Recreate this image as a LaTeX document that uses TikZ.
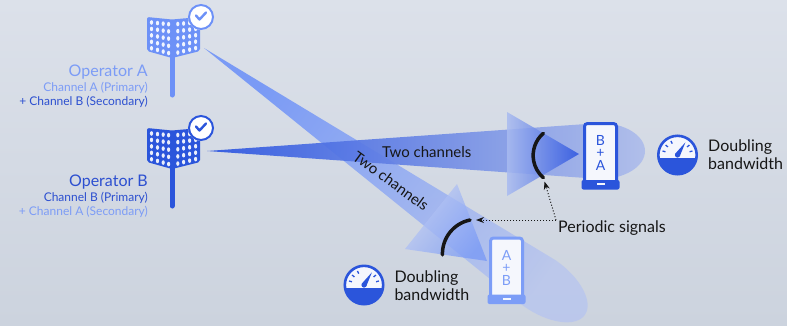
\documentclass[tikz,border=0pt]{standalone}
\usepackage{fontspec}
\setmainfont{Lato}
\usetikzlibrary{arrows.meta,calc}

\definecolor{bgtop}{HTML}{DCE1EA}
\definecolor{bgbot}{HTML}{CCD3DE}
\definecolor{opB}{HTML}{2B55DB}
\definecolor{opA}{HTML}{6D91F7}
\definecolor{phA}{HTML}{7C9DF7}
\definecolor{txtB}{HTML}{2C4FD0}
\definecolor{txtA}{HTML}{7C9CF6}
\definecolor{ink}{HTML}{161616}
\definecolor{screen}{HTML}{F5F7FD}
\definecolor{beamAstart}{HTML}{6A8FF8}
\definecolor{beamAend}{HTML}{B9C6EE}
\definecolor{beamBstart}{HTML}{2C55E0}
\definecolor{beamBmid}{HTML}{6684E0}
\definecolor{beamBend}{HTML}{AEBDEB}
\definecolor{coneAlight}{HTML}{C5D0F3}
\definecolor{coneAdark}{HTML}{7798F6}
\definecolor{coneBlight}{HTML}{A9BBF0}
\definecolor{coneBdark}{HTML}{2C54E0}

\tikzset{
  % sector antenna on a mast, with a check badge
  pics/tower/.style={code={
    \fill[#1, rounded corners=2pt] (0,0) -- (25,2.5) -- (53,0) -- (53,34) -- (25,41) -- (0,34) -- cycle;
    \draw[#1, line width=5pt, line cap=round] (25,38) -- (25,78);
    \foreach \cx in {4.5,10.5,16.2,21.6}{
      \foreach \r in {0,...,4}{
        \fill[#1!10!white] (\cx,{2.5*\cx/25+5+\r*(25+4.5*\cx/25)/4}) ellipse[x radius=1.6, y radius=2.3];
      }
    }
    \foreach \cx in {30.8,36.6,42.6,48.6}{
      \foreach \r in {0,...,4}{
        \fill[#1!10!white] (\cx,{2.5*(53-\cx)/28+5+\r*(25+4.5*(53-\cx)/28)/4}) ellipse[x radius=1.6, y radius=2.3];
      }
    }
    \fill[white] (54,0) circle[radius=13];
    \draw[#1, line width=2pt] (54,0) circle[radius=12];
    \draw[#1, line width=2.4pt, line cap=round, line join=round] (49,-1.5) -- (52.5,2.5) -- (59,-4.5);
  }},
  % speedometer icon
  pics/gauge/.style={code={
    \fill[screen] (0,0) circle[radius=19];
    \fill[opB] (19.8,3) arc[start angle=8.6, end angle=171.4, radius=20] -- cycle;
    \draw[opB, line width=2.6pt] (0,0) circle[radius=19.2];
    \foreach \a in {-165,-140,-115,-40,-15}
      \draw[opB, line width=1.3pt] (\a:12.5) -- (\a:15.5);
    \fill[opB, line join=round] (32:2.6) -- (-58:15) -- (-148:2.6) -- cycle;
    \fill[opB] (0,0) circle[radius=2.6];
  }},
  optitle/.style={font=\fontsize{16}{19}\selectfont, anchor=base east, inner sep=0pt},
  opline/.style={font=\fontsize{12}{14}\selectfont, anchor=base east, inner sep=0pt},
  beamlabel/.style={font=\fontsize{15}{18}\selectfont, text=ink, inner sep=0pt},
  note/.style={font=\fontsize{16}{18}\selectfont, text=ink, align=left, inner sep=0pt, anchor=base west},
  sigarrow/.style={ink, dotted, line width=1pt, -{Stealth[length=8pt,width=6pt]}},
  sigarc/.style={ink, line width=3.5pt, line cap=round},
  phone/.style={draw=#1, line width=3pt, fill=screen, rounded corners=3pt,
    minimum width=32pt, minimum height=63pt, inner sep=0pt},
  phonetext/.style={font=\fontsize{14}{12.5}\selectfont, text=#1, align=center, inner sep=0pt},
}

\begin{document}
\begin{tikzpicture}[x=1pt,y=-1pt]
\useasboundingbox (0,0) rectangle (787,325);
\shade[top color=bgtop, bottom color=bgbot] (0,0) rectangle (787,325);

\coordinate (srcA) at (204,48);
\coordinate (srcB) at (207,151);

% beam of operator A, ending in a rounded lobe
\shade[top color=beamAstart, bottom color=beamAend, shading angle=55, fill opacity=.85]
  (srcA) -- (555.9,260.4) .. controls (580.7,277.8) and (593.7,302.2) .. (584.9,314.9)
  .. controls (576.0,327.5) and (548.6,323.7) .. (523.7,306.2) -- cycle;

% beam of operator B
\shade[left color=beamBstart, middle color=beamBmid, right color=beamBend, fill opacity=.92]
  (srcB) -- (600,123) arc[start angle=-90, end angle=90, x radius=45, y radius=28] -- cycle;

% receive cones at the phones
\shade[top color=coneAlight, bottom color=coneAdark, shading angle=51, fill opacity=.75]
  (457,184) -- (487,261) -- (405,249) -- cycle;
\shade[left color=coneBlight, right color=coneBdark, fill opacity=.85]
  (507,112) -- (579,154) -- (507,196) -- cycle;

% periodic signal wavefronts
\coordinate (arcA1) at (470,220);
\draw[sigarc] (arcA1) arc[start angle=258.4, end angle=178.3, radius=34.5];
\coordinate (arcB1) at (543.3,133.3);
\draw[sigarc] (arcB1) arc[start angle=229.2, end angle=130.6, radius=29.3] coordinate (arcB2);

\node[beamlabel, anchor=base] (twoB) at (426.7,157.3) {Two channels};
\node[beamlabel, rotate=-36] (twoA) at (391,181) {Two channels};

% phones
\node[phone=opB] (phB) at (600.5,155) {};
\fill[opB, rounded corners=2pt] ([xshift=-1.5pt,yshift=-1.5pt]phB.south west) rectangle ([xshift=1.5pt,yshift=8pt]phB.south east);
\fill[screen] ([yshift=3.8pt]phB.south) +(-4,-1) rectangle +(4,1);
\node[phonetext=opB] (phBt) at (600.5,152.5) {B\\+\\A};

\node[phone=phA] (phA) at (506.5,269.5) {};
\fill[phA, rounded corners=2pt] ([xshift=-1.5pt,yshift=-1.5pt]phA.south west) rectangle ([xshift=1.5pt,yshift=8pt]phA.south east);
\fill[screen] ([yshift=3.8pt]phA.south) +(-4,-1) rectangle +(4,1);
\node[phonetext=phA] (phAt) at (506.5,267.5) {A\\+\\B};

% bandwidth gauges (the base anchor sits on the last line)
\pic (gR) at (677.5,155) {gauge};
\node[note] (dbR) at (708,169) {Doubling\\bandwidth};
\pic (gL) at (364,285) {gauge};
\node[note] (dbL) at (394.3,300.7) {Doubling\\bandwidth};

% signal callout
\node[note] (ps) at (558,232) {Periodic signals};
\coordinate (psA) at (556,220);
\draw[sigarrow, shorten >=6pt] (psA) -- (arcA1);
\draw[sigarrow, shorten >=4pt] (psA) -- (arcB2);

% base stations
\pic (twA) at (147,17) {tower=opA};
\pic (twB) at (147,128) {tower=opB};

\node[optitle, text=txtA] (opAname) at (148,76.7) {Operator A};
\node[opline, text=txtA] (opAl1) at (148,91.7) {Channel A (Primary)};
\node[opline, text=txtB] (opAl2) at (148,105.7) {+ Channel B (Secondary)};
\node[optitle, text=txtB] (opBname) at (148,186.7) {Operator B};
\node[opline, text=txtB] (opBl1) at (148,201.7) {Channel B (Primary)};
\node[opline, text=txtA] (opBl2) at (148,215.7) {+ Channel A (Secondary)};
\end{tikzpicture}
\end{document}
